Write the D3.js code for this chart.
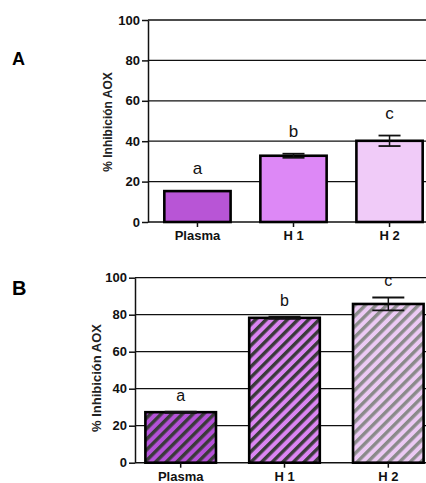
<!DOCTYPE html>
<html><head><meta charset="utf-8">
<script src="https://cdn.jsdelivr.net/npm/d3@7"></script>
<style>body{margin:0;background:#fff}svg{display:block}text{font-family:Arial,"Liberation Sans",sans-serif}</style>
</head><body><svg id="c" width="426" height="483"></svg>
<script>
const categories = ["Plasma", "H 1", "H 2"];
const valuesA = [15.3, 32.8, 40.2];
const errorsA = [0, 1.0, 2.6];
const lettersA = ["a", "b", "c"];
const valuesB = [27.3, 78.3, 85.8];
const errorsB = [0.3, 0.6, 3.5];
const lettersB = ["a", "b", "c"];
const yTicks = [0, 20, 40, 60, 80, 100];
const colorsA = ["#b855d6", "#dd88f6", "#f0cbf8"];
const colorsB = ["#b552d8", "#dc86f3", "#eccaf4"];
const stripeB = ["#3a3a3a", "#3a3a3a", "#8a8a8a"];

const svg = d3.select("#c");
const defs = svg.append("defs");
colorsB.forEach((c, i) => {
  const p = defs.append("pattern").attr("id", "hatch" + i).attr("patternUnits", "userSpaceOnUse")
    .attr("width", 7.5).attr("height", 8).attr("patternTransform", "rotate(45)");
  p.append("rect").attr("width", 7.5).attr("height", 8).attr("fill", c);
  p.append("rect").attr("x", 0).attr("width", 3.4).attr("height", 8).attr("fill", stripeB[i]);
});

function panel(cfg) {
  const g = svg.append("g");
  const y = d3.scaleLinear().domain([0, 100]).range([cfg.y0, cfg.y1]);
  const x = d3.scaleBand().domain(categories).range([cfg.x0, cfg.x1]).paddingInner(cfg.pad).paddingOuter(cfg.padOuter);
  g.append("g").selectAll("line").data(yTicks.filter(d => d > 0)).join("line")
    .attr("x1", cfg.x0).attr("x2", 426).attr("y1", d => y(d)).attr("y2", d => y(d))
    .attr("stroke", "#111").attr("stroke-width", 1.3);
  const ya = g.append("g").attr("transform", `translate(${cfg.x0},0)`)
    .call(d3.axisLeft(y).tickValues(yTicks).tickSize(6).tickPadding(2).tickSizeOuter(0));
  ya.select(".domain").attr("stroke", "#111").attr("stroke-width", 1.5);
  ya.selectAll(".tick line").attr("stroke", "#111").attr("stroke-width", 1.5);
  ya.selectAll(".tick text").attr("font-size", cfg.tickFs).attr("font-weight", "bold").attr("fill", "#111");
  g.append("line").attr("x1", cfg.x0).attr("x2", 426).attr("y1", y(0)).attr("y2", y(0))
    .attr("stroke", "#111").attr("stroke-width", 1.5);
  g.append("g").selectAll("rect").data(categories).join("rect")
    .attr("x", d => x(d)).attr("width", x.bandwidth())
    .attr("y", (d, i) => y(cfg.values[i])).attr("height", (d, i) => y(0) - y(cfg.values[i]))
    .attr("fill", (d, i) => cfg.fill(i)).attr("stroke", "#000").attr("stroke-width", 2.6);
  const eg = g.append("g");
  categories.forEach((c, i) => {
    const cx = x(c) + x.bandwidth() / 2, v = cfg.values[i], e = cfg.errors[i];
    if (e <= 0) return;
    const w = cfg.capW;
    eg.append("line").attr("x1", cx).attr("x2", cx).attr("y1", y(v + e)).attr("y2", y(v - e)).attr("stroke", "#111").attr("stroke-width", 1.5);
    eg.append("line").attr("x1", cx - w).attr("x2", cx + w).attr("y1", y(v + e)).attr("y2", y(v + e)).attr("stroke", "#111").attr("stroke-width", 1.8);
    eg.append("line").attr("x1", cx - w).attr("x2", cx + w).attr("y1", y(v - e)).attr("y2", y(v - e)).attr("stroke", "#111").attr("stroke-width", 1.8);
  });
  g.append("g").selectAll("text").data(categories).join("text")
    .attr("x", d => x(d) + x.bandwidth() / 2)
    .attr("y", (d, i) => y(cfg.values[i] + cfg.errors[i]) - cfg.letterGap)
    .attr("text-anchor", "middle").attr("font-size", cfg.letterFs).attr("fill", "#111")
    .text((d, i) => cfg.letters[i]);
  const xa = g.append("g").attr("transform", `translate(0,${y(0)})`)
    .call(d3.axisBottom(x).tickSize(5).tickPadding(4).tickSizeOuter(0));
  xa.select(".domain").remove();
  xa.selectAll(".tick line").attr("stroke", "#111").attr("stroke-width", 1.5);
  xa.selectAll(".tick text").attr("font-size", cfg.xFs).attr("font-weight", "bold").attr("fill", "#111");
  g.append("text").attr("transform", `translate(${cfg.ylx},${cfg.yly}) rotate(-90)`)
    .attr("text-anchor", "middle").attr("font-size", cfg.ylFs).attr("font-weight", cfg.ylW).attr("fill", "#222")
    .text("% Inhibición AOX");
  g.append("text").attr("x", 12).attr("y", cfg.ly).attr("font-size", cfg.lFs).attr("font-weight", "bold").attr("fill", "#000").text(cfg.label);
}

panel({x0: 148, x1: 439, y0: 222, y1: 20, pad: 0.31, padOuter: 0.17, values: valuesA, errors: errorsA, letters: lettersA,
  fill: i => colorsA[i], capW: 11, letterFs: 17, letterGap: 17, tickFs: 13, xFs: 13, ylx: 112, yly: 122, ylFs: 12, ylW: "bold", label: "A", lFs: 18, ly: 65});
panel({x0: 135, x1: 434, y0: 462.7, y1: 277.7, pad: 0.32, padOuter: 0.1, values: valuesB, errors: errorsB, letters: lettersB,
  fill: i => `url(#hatch${i})`, capW: 16, letterFs: 16, letterGap: 11, tickFs: 13, xFs: 13, ylx: 101, yly: 378, ylFs: 13, ylW: "bold", label: "B", lFs: 20, ly: 295});
</script></body></html>
